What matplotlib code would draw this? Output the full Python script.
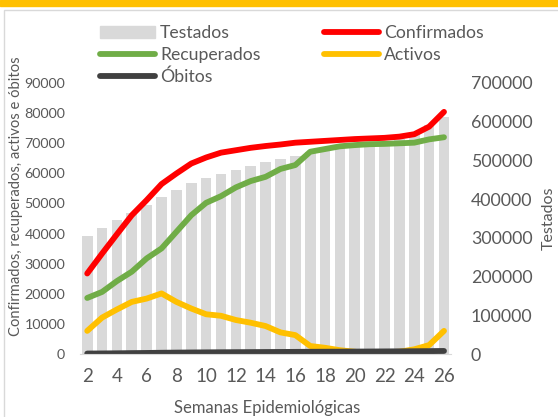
import matplotlib.pyplot as plt
from matplotlib.patches import Patch, Rectangle
from matplotlib.lines import Line2D

plt.rcParams['font.family'] = ['Lato', 'DejaVu Sans']

# datos por semana epidemiologica
semanas = list(range(2, 27))
testados = [304000, 325000, 345000, 364000, 383500, 405000, 424000, 441000, 453500,
            465000, 476000, 486000, 496500, 504000, 512000, 520000, 526000, 531000,
            535000, 539000, 545000, 555000, 570000, 590000, 612000]
confirmados = [26800, 33400, 39800, 46100, 51100, 56400, 59900, 63200, 65200, 66800,
               67600, 68400, 69000, 69500, 70100, 70400, 70700, 71000, 71300, 71500,
               71700, 72100, 72900, 75400, 80300]
recuperados = [18700, 20700, 24300, 27400, 31800, 35100, 40600, 46100, 50200, 52400,
               55300, 57400, 58800, 61400, 62700, 67100, 68000, 68900, 69300, 69600,
               69700, 69900, 70100, 71200, 71900]
activos = [7800, 12200, 14900, 17400, 18500, 20200, 17400, 15200, 13300, 12800,
           11400, 10500, 9400, 7300, 6400, 2800, 2200, 1400, 900, 300,
           700, 900, 1700, 3100, 7800]
obitos = [300, 330, 380, 440, 490, 560, 610, 650, 690, 720, 750, 770, 800, 820,
          850, 880, 900, 920, 950, 970, 1000, 1030, 1060, 1100, 1150]
xticks = list(range(2, 27, 2))

gris = '#595959'
fig = plt.figure(figsize=(5.58, 4.17), dpi=100)
ax = fig.add_axes([0.143, 0.150, 0.666, 0.652])
ax2 = ax.twinx()
ax.set_zorder(2)
ax2.set_zorder(1)
ax.patch.set_visible(False)

ax2.bar(semanas, testados, width=0.72, color='#D9D9D9')
lw = 4.2
ax.plot(semanas, confirmados, color='#FF0000', lw=lw, solid_capstyle='round', solid_joinstyle='round')
ax.plot(semanas, recuperados, color='#70AD47', lw=lw, solid_capstyle='round', solid_joinstyle='round')
ax.plot(semanas, activos, color='#FFC000', lw=lw, solid_capstyle='round', solid_joinstyle='round')
ax.plot(semanas, obitos, color='#404040', lw=lw, solid_capstyle='round', solid_joinstyle='round')

ax.set_xlim(1.5, 26.5)
ax.set_ylim(0, 90000)
ax2.set_ylim(0, 700000)
ax.set_yticks(range(0, 90001, 10000))
ax2.set_yticks(range(0, 700001, 100000))
ax.set_xticks(xticks)

for a in (ax, ax2):
    for s in a.spines.values():
        s.set_visible(False)
    a.tick_params(length=0, colors=gris)
ax.spines['bottom'].set_visible(True)
ax.spines['bottom'].set_color('#D9D9D9')
ax.tick_params(axis='y', pad=10.5, labelsize=10.3)
ax.tick_params(axis='x', pad=10, labelsize=13.5)
ax2.tick_params(axis='y', pad=14, labelsize=12.8)

fig.text(16 / 558, 1 - 196 / 417, 'Confirmados, recuperados, activos e óbitos',
         rotation=90, ha='center', va='center', fontsize=10.6, color=gris)
fig.text(549 / 558, 1 - 218 / 417, 'Testados', rotation=90, ha='center',
         va='center', fontsize=11.5, color=gris)
fig.text(267 / 558, 1 - 408 / 417, 'Semanas Epidemiológicas', ha='center',
         va='center', fontsize=12, color=gris)

# leyenda
h = [Patch(color='#D9D9D9'),
     Line2D([], [], color='#70AD47', lw=lw, solid_capstyle='round'),
     Line2D([], [], color='#404040', lw=lw, solid_capstyle='round'),
     Line2D([], [], color='#FF0000', lw=lw, solid_capstyle='round'),
     Line2D([], [], color='#FFC000', lw=lw, solid_capstyle='round')]
l = ['Testados', 'Recuperados', 'Óbitos', 'Confirmados', 'Activos']
leg = fig.legend(h, l, ncol=2, loc='upper left', bbox_to_anchor=(100 / 558, 1 - 25 / 417),
                 frameon=False, fontsize=12.7, handlelength=3.1, handletextpad=0.3,
                 columnspacing=3.6, labelspacing=0.34, borderaxespad=0, borderpad=0)
for t in leg.get_texts():
    t.set_color(gris)

# franja del titulo y marco
fig.patches.append(Rectangle((0, 1 - 6 / 417), 1, 6 / 417, transform=fig.transFigure,
                             color='#FFC000', zorder=0))
fig.patches.append(Rectangle((3.5 / 558, -0.05), 1, 1.05 - 9.5 / 417, transform=fig.transFigure,
                             fill=False, edgecolor='#D9D9D9', lw=1))

fig.savefig('out.png', dpi=100)
